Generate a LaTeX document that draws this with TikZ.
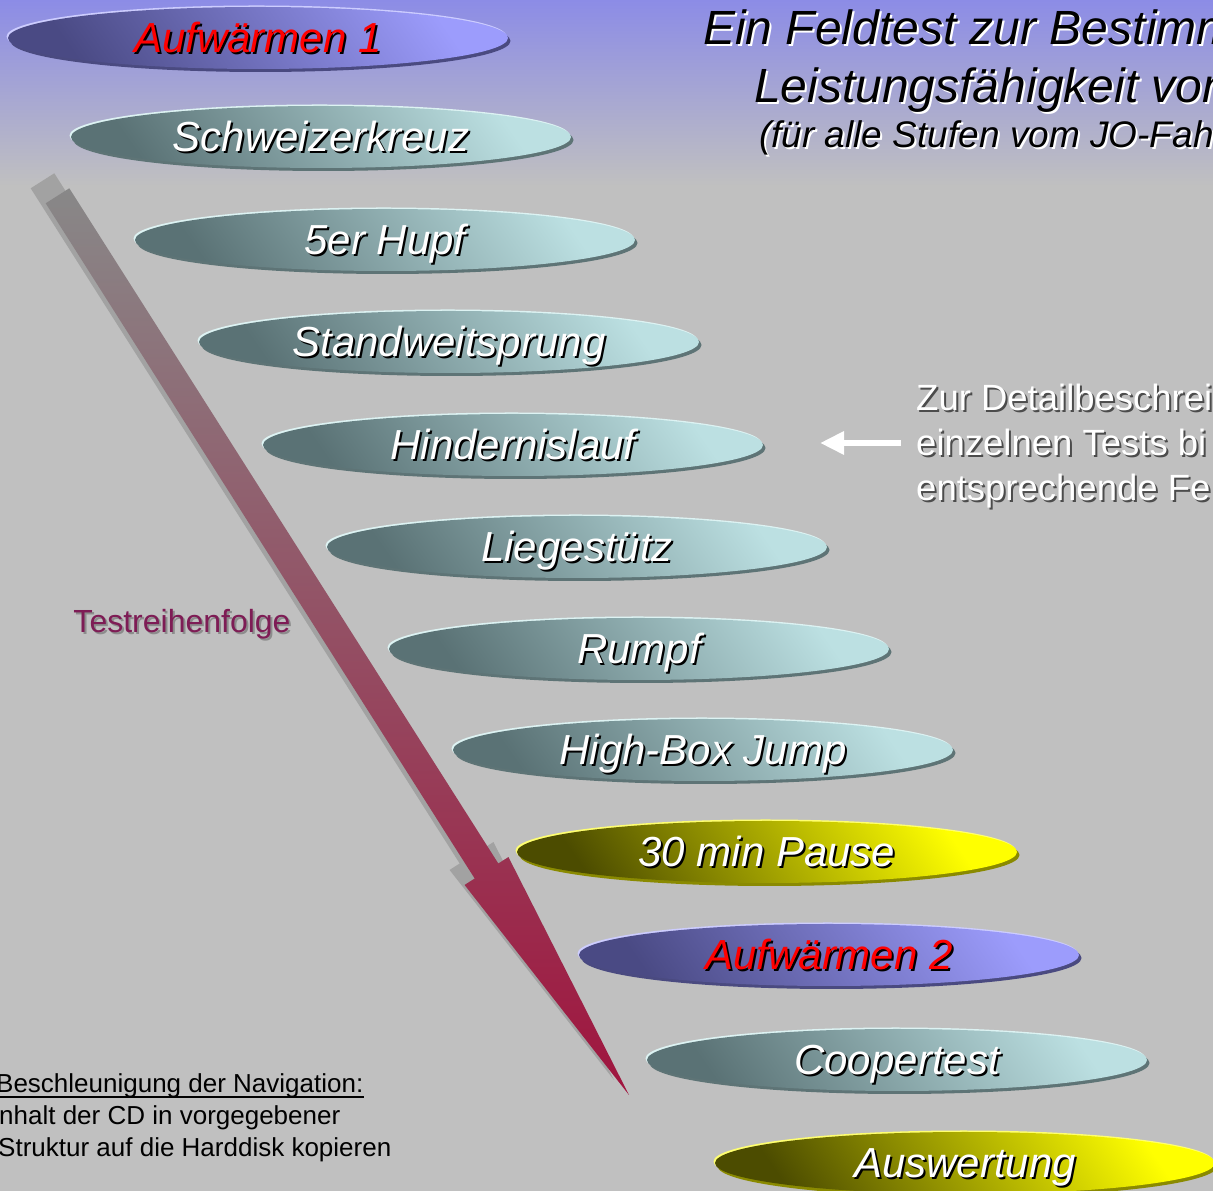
\documentclass[tikz,border=0pt]{standalone}
\usepackage{fontspec}
\setmainfont{Liberation Sans}
\usetikzlibrary{shapes.geometric,shadows,calc,arrows.meta}
\definecolor{bgray}{HTML}{C0C0C0}
\definecolor{bgblue}{HTML}{8C8CE6}
\definecolor{tealL}{HTML}{BCE0E2}
\definecolor{tealD}{HTML}{5A7275}
\definecolor{tealS}{HTML}{5E7476}
\definecolor{tealH}{HTML}{DDF3F3}
\definecolor{blueL}{HTML}{9C9CFC}
\definecolor{blueD}{HTML}{4A4A84}
\definecolor{blueS}{HTML}{4A4A80}
\definecolor{blueH}{HTML}{CDCDFF}
\definecolor{yelL}{HTML}{FFFF00}
\definecolor{yelD}{HTML}{4C4C00}
\definecolor{yelS}{HTML}{8A8A00}
\definecolor{yelH}{HTML}{FFFF70}
\definecolor{arrTop}{HTML}{888888}
\definecolor{arrBot}{HTML}{A0143E}
\definecolor{arrShadow}{HTML}{A2A2A2}
\definecolor{maroon}{HTML}{7E1C55}
\newcommand\shtxt[3]{\rlap{\kern2pt\raisebox{-2pt}{\textcolor{#2}{#3}}}\textcolor{#1}{#3}}
\tikzset{
  pillbase/.style={ellipse, minimum width=500pt, minimum height=62pt, inner sep=0pt,
    text height=30pt, text depth=0pt, font=\fontsize{42}{50}\selectfont\itshape},
  tealpill/.style={pillbase, general shadow={shadow xshift=2.5pt, shadow yshift=-3pt, fill=tealS},
    general shadow={shadow xshift=-1.5pt, shadow yshift=1.5pt, fill=tealH},
    top color=tealL, bottom color=tealD, shading angle=-55},
  bluepill/.style={pillbase, general shadow={shadow xshift=2.5pt, shadow yshift=-3pt, fill=blueS},
    general shadow={shadow xshift=-1.5pt, shadow yshift=1.5pt, fill=blueH},
    top color=blueL, bottom color=blueD, shading angle=-55},
  yelpill/.style={pillbase, general shadow={shadow xshift=2.5pt, shadow yshift=-3pt, fill=yelS},
    general shadow={shadow xshift=-1.5pt, shadow yshift=1.5pt, fill=yelH},
    top color=yelL, bottom color=yelD, shading angle=-55},
  titletxt/.style={anchor=base west, inner sep=0pt, font=\fontsize{48}{57}\selectfont\itshape},
  subtxt/.style={anchor=base west, inner sep=0pt, font=\fontsize{37}{44}\selectfont\itshape},
  infotxt/.style={anchor=base west, inner sep=0pt, font=\fontsize{36.5}{44}\selectfont},
  navtxt/.style={anchor=base west, inner sep=0pt, font=\fontsize{26}{32}\selectfont},
}
\begin{document}
\begin{tikzpicture}[x=1pt,y=1pt]
\useasboundingbox (0,0) rectangle (1213,1191);
\clip (0,0) rectangle (1213,1191);
% background
\fill[bgray] (0,0) rectangle (1213,1191);
\shade[top color=bgblue, bottom color=bgray] (0,1005) rectangle (1213,1191);

% big arrow
\coordinate (S) at (57.5,995.2);
\coordinate (B) at (486.5,320);
\coordinate (T) at (629,96);
\fill[arrShadow, transform canvas={shift={(-15pt,15pt)}}] ($(S)!14pt!90:(T)$) -- ($(B)!14pt!90:(T)$) -- ($(B)!26pt!90:(T)$) -- (T)
  -- ($(B)!26pt!-90:(T)$) -- ($(B)!14pt!-90:(T)$) -- ($(S)!14pt!-90:(T)$) -- cycle;
\shade[top color=arrTop, bottom color=arrBot] ($(S)!14pt!90:(T)$) -- ($(B)!14pt!90:(T)$) -- ($(B)!26pt!90:(T)$) -- (T)
  -- ($(B)!26pt!-90:(T)$) -- ($(B)!14pt!-90:(T)$) -- ($(S)!14pt!-90:(T)$) -- cycle;

\node[font=\fontsize{32}{38}\selectfont] (order) at (182,566) {\shtxt{maroon}{black!45}{Testreihenfolge}};

% ellipses
\node[bluepill] (a1) at (258,1153) {\shtxt{red}{black}{Aufwärmen 1}};
\node[tealpill] (schweiz) at (321,1054) {\shtxt{white}{black}{Schweizerkreuz}};
\node[tealpill] (hupf) at (385,951) {\shtxt{white}{black}{5er Hupf}};
\node[tealpill] (stand) at (449,849) {\shtxt{white}{black}{Standweitsprung}};
\node[tealpill] (hind) at (513,746) {\shtxt{white}{black}{Hindernislauf}};
\node[tealpill] (lieg) at (577,644) {\shtxt{white}{black}{Liegestütz}};
\node[tealpill] (rumpf) at (639,542) {\shtxt{white}{black}{Rumpf}};
\node[tealpill] (hbj) at (703,441) {\shtxt{white}{black}{High-Box Jump}};
\node[yelpill] (pause) at (767,339) {\shtxt{white}{black}{30 min Pause}};
\node[bluepill] (a2) at (829,236) {\shtxt{red}{black}{Aufwärmen 2}};
\node[tealpill] (cooper) at (897,131) {\shtxt{white}{black}{Coopertest}};
\node[yelpill] (ausw) at (965,28) {\shtxt{white}{black}{Auswertung}};

% title
\node[titletxt] (t1) at (703,1146) {\shtxt{black}{white}{Ein Feldtest zur Bestimm}};
\node[titletxt] (t2) at (754,1088) {\shtxt{black}{white}{Leistungsfähigkeit von}};
\node[subtxt] (t3) at (759,1043) {\shtxt{black}{white}{(für alle Stufen vom JO-Fah}};

% info text with white arrow
\node[infotxt] (i1) at (916,780) {\shtxt{white}{black!70}{Zur Detailbeschrei}};
\node[infotxt] (i2) at (916,735) {\shtxt{white}{black!70}{einzelnen Tests bi}};
\node[infotxt] (i3) at (916,690) {\shtxt{white}{black!70}{entsprechende Fe}};
\coordinate (wa) at (901,748);
\coordinate (wb) at (820,748);
\draw[white, line width=6pt, -{Triangle[length=24pt,width=22pt]}] (wa) -- (wb);

% navigation note
\node[navtxt] (nav) at (-4,98) {Beschleunigung der Navigation:};
\draw[line width=1.5pt] ([yshift=-4pt]nav.base west) -- ([yshift=-4pt]nav.base east);
\node[navtxt] (nav2) at (-1,66) {nhalt der CD in vorgegebener};
\node[navtxt] (nav3) at (-2,34) {Struktur auf die Harddisk kopieren};
\end{tikzpicture}
\end{document}
